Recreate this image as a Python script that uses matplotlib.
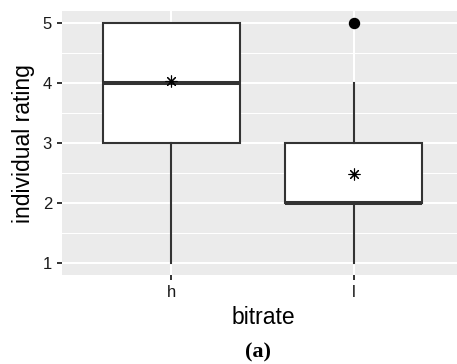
import matplotlib
matplotlib.use("Agg")
import matplotlib.pyplot as plt
from matplotlib.ticker import MultipleLocator

# per-bitrate rating summaries
bitrates = ["h", "l"]
q1 = [3, 2]
medians = [4, 2]
q3 = [5, 3]
whisker_low = [1, 1]
whisker_high = [5, 4]
means = [4.03, 2.48]
outliers = [[], [5]]

INK = "#333333"
plt.rcParams["font.family"] = ["Liberation Sans", "DejaVu Sans"]

fig = plt.figure(figsize=(4.57, 3.64), dpi=100)
ax = fig.add_axes([62 / 457, 89 / 364, 395 / 457, 264 / 364])
ax.set_facecolor("#EBEBEB")

stats = []
for i, name in enumerate(bitrates):
    stats.append(dict(label=name, med=medians[i], q1=q1[i], q3=q3[i],
                      whislo=whisker_low[i], whishi=whisker_high[i],
                      mean=means[i], fliers=outliers[i]))

positions = list(range(1, len(bitrates) + 1))
ax.bxp(stats, positions=positions, widths=0.75, showcaps=False, showmeans=True,
       patch_artist=True, zorder=3,
       boxprops=dict(facecolor="white", edgecolor=INK, linewidth=1.5),
       medianprops=dict(color=INK, linewidth=2.9, solid_capstyle="butt"),
       whiskerprops=dict(color=INK, linewidth=1.5),
       flierprops=dict(marker="o", markerfacecolor="black", markeredgecolor="black",
                       markersize=7.2),
       meanprops=dict(marker=(8, 2, 0), markeredgecolor="black", markerfacecolor="black",
                      markersize=8.5, markeredgewidth=0.8))

ax.set_xlim(0.4, 2.565)
ax.set_ylim(0.8, 5.2)
ax.yaxis.set_major_locator(MultipleLocator(1))
ax.yaxis.set_minor_locator(MultipleLocator(0.5))
ax.set_xticks(positions)
ax.set_xticklabels(bitrates)

ax.grid(which="major", color="white", linewidth=1.5, zorder=0)
ax.grid(which="minor", axis="y", color="white", linewidth=0.75, zorder=0)
ax.set_axisbelow(True)
for s in ax.spines.values():
    s.set_visible(False)

ax.tick_params(which="major", length=3.6, width=1.4, color=INK, labelcolor="#1A1A1A",
               labelsize=12, pad=3.6)
ax.tick_params(which="minor", length=0)

ax.set_xlabel("bitrate", fontsize=16.5, va="center")
ax.xaxis.set_label_coords(0.509, -0.16)
ax.set_ylabel("individual rating", fontsize=16.5, va="center", ha="center")
ax.yaxis.set_label_coords(-0.098, 0.496)

fig.text(258 / 457, 1 - 352 / 364, "(a)", ha="center", va="center",
         family="Liberation Serif", fontweight="bold", fontsize=16)

fig.savefig("out.png", dpi=100)
